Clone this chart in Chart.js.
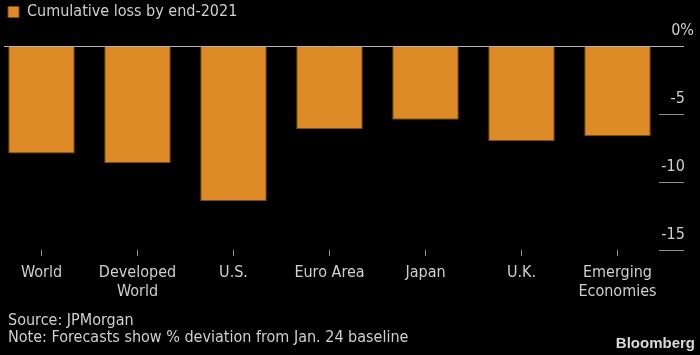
<!DOCTYPE html>
<html>
<head>
<meta charset="utf-8">
<script src="https://cdn.jsdelivr.net/npm/chart.js@4/dist/chart.umd.min.js"></script>
<style>
  html, body { margin: 0; padding: 0; background: #000; }
  #wrap { position: relative; width: 700px; height: 355px; background: #000; overflow: hidden; }
  #c { position: absolute; left: 0; top: 0; }
  .txt { position: absolute; color: #cfcfcf; font-family: "DejaVu Sans Condensed", "DejaVu Sans", sans-serif; font-size: 16px; white-space: nowrap; }
  #notes { left: 8px; top: 312px; line-height: 16.5px; }
  #brand { right: 5px; top: 334px; font-family: "Liberation Sans", Arial, sans-serif; font-weight: bold; font-size: 15px; color: #d9d9d9; line-height: 18px; }
</style>
</head>
<body>
<div id="wrap">
  <canvas id="c" width="700" height="355"></canvas>
  <div id="notes" class="txt">Source: JPMorgan<br>Note: Forecasts show % deviation from Jan. 24 baseline</div>
  <div id="brand" class="txt">Bloomberg</div>
</div>
<script>
const categories = ['World', ['Developed', 'World'], 'U.S.', 'Euro Area', 'Japan', 'U.K.', ['Emerging', 'Economies']];
const seriesName = 'Cumulative loss by end-2021';
const lossValues = [-7.9, -8.6, -11.4, -6.1, -5.4, -7.0, -6.6];
const yMin = -15;
const yMax = 1.2;
const yStep = 5;

const textColor = '#cfcfcf';
const barColor = '#dd8b26';
const zeroColor = '#b4b4b4';
const tickGray = '#8e8e8e';

Chart.defaults.font.family = '"DejaVu Sans Condensed", "DejaVu Sans", sans-serif';
Chart.defaults.font.size = 16;
Chart.defaults.color = textColor;

new Chart(document.getElementById('c'), {
  type: 'bar',
  data: {
    datasets: [{
      label: seriesName,
      data: lossValues.map((v, i) => ({ x: i, y: v })),
      backgroundColor: barColor,
      borderColor: '#7a4b12',
      borderWidth: 1,
      borderSkipped: 'start',
      barPercentage: 0.693,
      categoryPercentage: 1
    }]
  },
  options: {
    responsive: false,
    animation: false,
    devicePixelRatio: 1,
    layout: { padding: { top: 0, left: 4, right: 6, bottom: 55 } },
    plugins: {
      legend: {
        position: 'top',
        align: 'start',
        labels: {
          boxWidth: 11,
          boxHeight: 11,
          padding: 4,
          color: textColor,
          font: { size: 16 }
        }
      },
      tooltip: { enabled: false }
    },
    scales: {
      x: {
        type: 'linear',
        min: -0.3906,
        max: 6.4323,
        offset: false,
        border: { display: false },
        grid: { offset: false, drawOnChartArea: false, drawTicks: true, tickLength: 6, tickColor: tickGray, lineWidth: 1 },
        ticks: {
          stepSize: 1,
          includeBounds: false,
          autoSkip: false,
          maxRotation: 0,
          padding: 7,
          color: textColor,
          font: { size: 16, lineHeight: 1.2 },
          callback: (v) => Number.isInteger(v) && v >= 0 && v < categories.length ? categories[v] : ''
        },
        afterFit: (s) => { s.height = 50; }
      },
      y: {
        position: 'right',
        min: yMin,
        max: yMax,
        border: { display: false },
        grid: {
          drawOnChartArea: true,
          drawTicks: true,
          tickLength: 25,
          lineWidth: 1,
          color: (ctx) => (ctx.tick && ctx.tick.value === 0) ? zeroColor : 'rgba(0,0,0,0)',
          tickColor: (ctx) => (ctx.tick && ctx.tick.value === 0) ? zeroColor : tickGray
        },
        ticks: {
          stepSize: yStep,
          includeBounds: false,
          crossAlign: 'far',
          labelOffset: -15,
          padding: 0,
          color: textColor,
          font: { size: 16 },
          callback: (v) => v === 0 ? '0%' : String(v) + '\u2007'
        },
        afterFit: (s) => { s.width = 35; }
      }
    }
  }
});
</script>
</body>
</html>
